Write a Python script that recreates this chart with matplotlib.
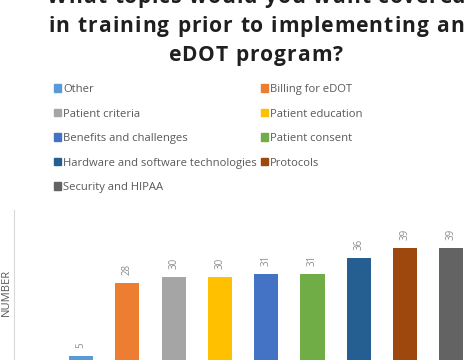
import numpy as np
import matplotlib.pyplot as plt
from matplotlib.patches import Patch
from matplotlib.font_manager import FontProperties
from matplotlib.textpath import TextToPath

topics = ['Other', 'Billing for eDOT', 'Patient criteria', 'Patient education',
          'Benefits and challenges', 'Patient consent',
          'Hardware and software technologies', 'Protocols', 'Security and HIPAA']
counts = [5, 28, 30, 30, 31, 31, 36, 39, 39]
colors = ['#5B9BD5', '#ED7D31', '#A5A5A5', '#FFC000', '#4472C4', '#70AD47',
          '#255E91', '#9E480E', '#636363']
title_lines = ['What topics would you want covered',
               'in training prior to implementing an',
               'eDOT program?']

W, H = 467, 360
fig = plt.figure(figsize=(W / 100, H / 100), dpi=100)


def tracked_text(s, xc, y_base, track, prop, color):
    # draw a line char by char so the letter spacing can be widened
    t2p = TextToPath()
    px = fig.dpi / 72.0
    ref = t2p.get_text_width_height_descent('xx', prop, ismath=False)[0]
    adv = [(t2p.get_text_width_height_descent('x' + c + 'x', prop, ismath=False)[0] - ref) * px
           for c in s]
    total = sum(adv) + track * (len(s) - 1)
    xp = xc - total / 2
    for c, a in zip(s, adv):
        if c != ' ':
            fig.text(xp / W, 1 - y_base / H, c, fontproperties=prop, color=color,
                     ha='left', va='baseline')
        xp += a + track


# plot area runs off the bottom/right like the cropped original
ax = fig.add_axes([14 / W, -12 / H, (W - 14) / W, 162 / H])
x = np.arange(len(counts))
bars = ax.bar(x, counts, width=0.52, color=colors)
ax.set_xlim(-1.447, -1.447 + (W - 14) / 46.3)
ax.set_ylim(0, 51)
for b, v in zip(bars, counts):
    ax.text(b.get_x() + b.get_width() / 2, v + 2.5, str(v), rotation=90,
            ha='center', va='bottom', fontsize=7, color='#8c8c8c',
            family='Open Sans')
for s in ['top', 'right', 'bottom']:
    ax.spines[s].set_visible(False)
ax.spines['left'].set_color('#d9d9d9')
ax.set_xticks([])
ax.set_yticks([])

fig.text(6 / W, 1 - 292 / H, 'NUMBER', rotation=90, ha='center', va='center',
         fontsize=8, color='#595959', family='Open Sans')

tprop = FontProperties(family='Open Sans', weight='bold', size=15.1)
for line, yb in zip(title_lines, [3, 32, 61]):
    tracked_text(line, 256, yb, 1.2, tprop, '#1f1f1f')

# legend laid out row-wise: reorder for column-major filling
order = [0, 2, 4, 6, 8, 1, 3, 5, 7]
handles = [Patch(color=colors[i], label=topics[i]) for i in order]
fig.legend(handles=handles, ncol=2, loc='upper left',
           bbox_to_anchor=(44 / W, 1 - 74 / H), frameon=False,
           prop={'family': 'Open Sans', 'size': 8.1},
           labelcolor='#595959', handlelength=0.65, handleheight=0.65,
           handletextpad=0.15, columnspacing=0.35, labelspacing=1.2)

fig.savefig('out.png', dpi=100)
